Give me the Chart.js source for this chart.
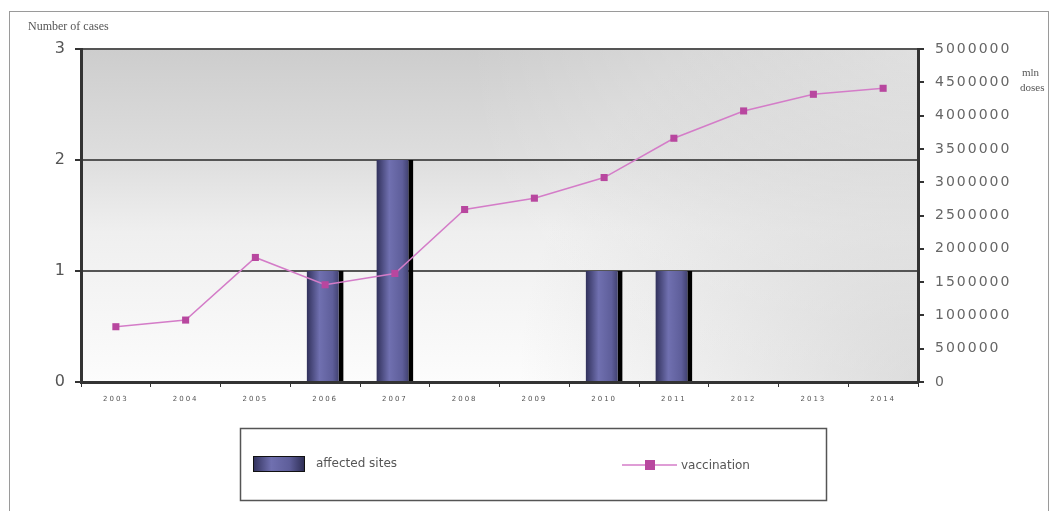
<!DOCTYPE html>
<html>
<head>
<meta charset="utf-8">
<script src="https://cdn.jsdelivr.net/npm/chart.js@4"></script>
<style>
  html, body { margin: 0; padding: 0; background: #fff; }
  #wrap { width: 1061px; height: 511px; position: relative; }
</style>
</head>
<body>
<div id="wrap"><canvas id="myChart" width="1061" height="511"></canvas></div>
<script>
var years = ['2003', '2004', '2005', '2006', '2007', '2008', '2009', '2010', '2011', '2012', '2013', '2014'];
var affectedSites = [0, 0, 0, 1, 2, 0, 0, 1, 1, 0, 0, 0];
var vaccination = [830000, 930000, 1870000, 1460000, 1630000, 2590000, 2760000, 3070000, 3660000, 4070000, 4320000, 4410000];
var leftTicks = [0, 1, 2, 3];
var rightTickStep = 500000;

function barGradient(c, x0, x1) {
    var g = c.createLinearGradient(x0, 0, x1, 0);
    g.addColorStop(0, '#30305a');
    g.addColorStop(0.35, '#7070b0');
    g.addColorStop(0.7, '#5e5e9a');
    g.addColorStop(1, '#2c2c52');
    return g;
}

// background, frame, titles and legend box
var decor = {
    id: 'decor',
    beforeDraw: function (chart) {
        var c = chart.ctx, a = chart.chartArea;
        c.save();
        var g = c.createLinearGradient(0, a.top, 0, a.bottom);
        g.addColorStop(0, '#cdcdcd');
        g.addColorStop(0.33, '#dedede');
        g.addColorStop(0.55, '#efefef');
        g.addColorStop(1, '#fcfcfc');
        c.fillStyle = g;
        c.fillRect(a.left, a.top, a.right - a.left, a.bottom - a.top);
        var t = c.createRadialGradient(a.right, a.top, 0, a.right, a.top, 450);
        t.addColorStop(0, 'rgba(255,255,255,0.45)');
        t.addColorStop(1, 'rgba(255,255,255,0)');
        c.fillStyle = t;
        c.fillRect(a.left, a.top, a.right - a.left, a.bottom - a.top);
        var r = c.createRadialGradient(a.right, a.bottom, 0, a.right, a.bottom, 400);
        r.addColorStop(0, 'rgba(150,150,150,0.3)');
        r.addColorStop(1, 'rgba(150,150,150,0)');
        c.fillStyle = r;
        c.fillRect(a.left, a.top, a.right - a.left, a.bottom - a.top);

        // outer frame
        c.strokeStyle = '#9a9a9a';
        c.lineWidth = 1;
        c.strokeRect(9.5, 11.5, 1039, 520);
        c.restore();
        c.letterSpacing = '2px';
    },
    afterDraw: function (chart) {
        var c = chart.ctx;
        c.letterSpacing = '0px';
        c.save();
        c.fillStyle = '#555';
        c.font = '12px "Liberation Serif"';
        c.textBaseline = 'middle';
        c.fillText('Number of cases', 28, 27);
        c.font = '11px "Liberation Serif"';
        c.fillText('mln', 1022, 73);
        c.fillText('doses', 1020, 88);

        // legend
        c.strokeStyle = '#555';
        c.lineWidth = 1.5;
        c.strokeRect(240.5, 428.5, 586, 72);
        c.fillStyle = barGradient(c, 253, 305);
        c.fillRect(253, 456, 52, 16);
        c.strokeStyle = '#111';
        c.lineWidth = 1;
        c.strokeRect(253.5, 456.5, 51, 15);
        c.fillStyle = '#555';
        c.font = '12px "DejaVu Sans"';
        c.fillText(chart.data.datasets[1].label, 316, 464);
        c.strokeStyle = '#d47cc8';
        c.lineWidth = 1.5;
        c.beginPath();
        c.moveTo(622, 465);
        c.lineTo(677, 465);
        c.stroke();
        c.fillStyle = '#b8479f';
        c.fillRect(645, 460, 10, 10);
        c.fillStyle = '#555';
        c.fillText(chart.data.datasets[0].label, 681, 466);
        c.restore();
    }
};

var ctx = document.getElementById('myChart').getContext('2d');
var myChart = new Chart(ctx, {
    data: {
        labels: years,
        datasets: [{
            type: 'line',
            label: 'vaccination',
            data: vaccination,
            yAxisID: 'y1',
            borderColor: '#d47cc8',
            borderWidth: 1.5,
            backgroundColor: '#b8479f',
            pointStyle: 'rect',
            pointRadius: 5,
            pointBorderWidth: 0,
            tension: 0,
            order: 0
        }, {
            type: 'bar',
            label: 'affected sites',
            data: affectedSites,
            yAxisID: 'y',
            backgroundColor: function (context) {
                var chart = context.chart;
                if (!chart.chartArea || !chart.scales.x) return '#5e5e9a';
                var x = chart.scales.x.getPixelForValue(context.dataIndex);
                var w = (chart.chartArea.right - chart.chartArea.left) / years.length * 0.53;
                return barGradient(chart.ctx, x - w / 2, x + w / 2);
            },
            borderColor: '#000',
            borderWidth: { right: 5, top: 0, left: 0, bottom: 0 },
            borderSkipped: false,
            barPercentage: 0.53,
            categoryPercentage: 1,
            order: 1
        }]
    },
    options: {
        responsive: false,
        animation: false,
        layout: { padding: { top: 49, left: 0, right: 0, bottom: 0 } },
        plugins: {
            legend: { display: false },
            tooltip: { enabled: false }
        },
        scales: {
            x: {
                offset: true,
                grid: { drawOnChartArea: false, offset: true, tickLength: 5, color: '#333' },
                border: { color: '#333', width: 3 },
                ticks: { color: '#555', font: { family: 'DejaVu Sans', size: 7 }, padding: 8, maxRotation: 0 },
                afterFit: function (s) { s.height = 129; }
            },
            y: {
                position: 'left',
                min: 0,
                max: 3,
                afterBuildTicks: function (s) { s.ticks = leftTicks.map(function (v) { return { value: v }; }); },
                grid: { color: '#555', lineWidth: 2, tickLength: 6, tickColor: '#333' },
                border: { color: '#333', width: 3 },
                ticks: { color: '#555', font: { family: 'DejaVu Sans', size: 16 }, padding: 8 },
                afterFit: function (s) { s.width = 81; }
            },
            y1: {
                position: 'right',
                min: 0,
                max: 5000000,
                ticks: {
                    stepSize: rightTickStep,
                    color: '#666',
                    font: { family: 'DejaVu Sans', size: 14 },
                    padding: 11,
                    callback: function (v) { return String(v); }
                },
                grid: { drawOnChartArea: false, tickLength: 6, color: '#333', lineWidth: 2 },
                border: { color: '#333', width: 3 },
                afterFit: function (s) { s.width = 143; }
            }
        }
    },
    plugins: [decor]
});
</script>
</body>
</html>
